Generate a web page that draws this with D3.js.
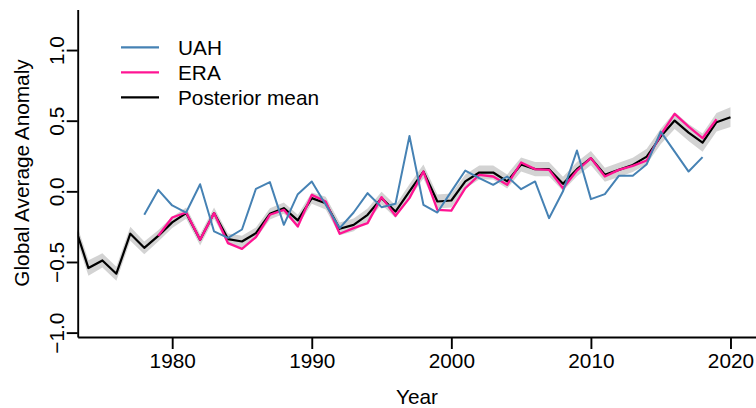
<!DOCTYPE html>
<html>
<head>
<meta charset="utf-8">
<script src="https://cdn.jsdelivr.net/npm/d3@7"></script>
<style>
  html, body { margin: 0; padding: 0; background: #fff; }
  svg { display: block; }
  text { font-family: "Liberation Sans", Arial, Helvetica, sans-serif; }
</style>
</head>
<body>
<svg id="chart" width="756" height="408"></svg>
<script>
// ---- data ----
const postYears = d3.range(1973, 2021);
const postMean = [-0.24, -0.543, -0.489, -0.583, -0.30, -0.40, -0.315, -0.22, -0.154, -0.343,
  -0.154, -0.338, -0.355, -0.296, -0.159, -0.119, -0.206, -0.048, -0.084, -0.265,
  -0.237, -0.166, -0.048, -0.143, 0.0, 0.14, -0.072, -0.065, 0.07, 0.133,
  0.133, 0.07, 0.19, 0.157, 0.157, 0.053, 0.157, 0.235, 0.117, 0.152,
  0.187, 0.246, 0.388, 0.501, 0.416, 0.345, 0.489, 0.525];
const postHalf = [0.055, 0.055, 0.05, 0.05, 0.05, 0.045, 0.04, 0.04, 0.04, 0.04,
  0.04, 0.04, 0.04, 0.04, 0.04, 0.04, 0.04, 0.04, 0.045, 0.045,
  0.045, 0.045, 0.045, 0.045, 0.05, 0.05, 0.05, 0.05, 0.05, 0.05,
  0.05, 0.05, 0.05, 0.05, 0.05, 0.05, 0.05, 0.05, 0.05, 0.05,
  0.05, 0.055, 0.055, 0.06, 0.06, 0.065, 0.065, 0.07];

const eraYears = d3.range(1979, 2020);
const eraVals = [-0.315, -0.185, -0.15, -0.343, -0.154, -0.367, -0.407, -0.324, -0.166, -0.131,
  -0.249, -0.025, -0.072, -0.30, -0.26, -0.225, -0.041, -0.173, -0.048, 0.14,
  -0.131, -0.136, 0.022, 0.117, 0.105, 0.046, 0.204, 0.157, 0.152, 0.022,
  0.147, 0.235, 0.105, 0.152, 0.18, 0.218, 0.40, 0.548, 0.458, 0.376, 0.51];

const uahYears = d3.range(1978, 2019);
const uahVals = [-0.166, 0.01, -0.10, -0.15, 0.05, -0.284, -0.33, -0.27, 0.018, 0.065,
  -0.237, -0.02, 0.07, -0.095, -0.26, -0.15, -0.013, -0.112, -0.088, 0.392,
  -0.095, -0.15, 0.0, 0.147, 0.093, 0.046, 0.105, 0.015, 0.07, -0.19,
  0.0, 0.289, -0.055, -0.02, 0.11, 0.11, 0.192, 0.423, 0.281, 0.14, 0.242];

const xTicks = [1980, 1990, 2000, 2010, 2020];
const yTicks = [-1.0, -0.5, 0.0, 0.5, 1.0];
const legendLabels = ["UAH", "ERA", "Posterior mean"];
const legendColors = ["#4682b4", "#ff1493", "#000000"];

// ---- layout ----
const pL = 77.7, pR = 757, pT = 9.5, pB = 337;
const x = d3.scaleLinear().domain([1973.23, 2021.9]).range([pL, pR]);
const y = d3.scaleLinear().domain([-1.031, 1.287]).range([pB, pT]);
const FONT = 20.8;

const svg = d3.select("#chart");

svg.append("defs").append("clipPath").attr("id", "plotclip")
  .append("rect").attr("x", pL).attr("y", pT)
  .attr("width", pR - pL).attr("height", pB - pT);

const plot = svg.append("g").attr("clip-path", "url(#plotclip)");

const post = postYears.map((yr, i) => ({yr, m: postMean[i], h: postHalf[i]}));
const era = eraYears.map((yr, i) => ({yr, v: eraVals[i]}));
const uah = uahYears.map((yr, i) => ({yr, v: uahVals[i]}));

plot.append("path")
  .datum(post)
  .attr("fill", "#d3d3d3")
  .attr("d", d3.area().x(d => x(d.yr)).y0(d => y(d.m - d.h)).y1(d => y(d.m + d.h)));

const line = d3.line().x(d => x(d.yr)).y(d => y(d.v));

plot.append("path").datum(post.map(d => ({yr: d.yr, v: d.m})))
  .attr("fill", "none").attr("stroke", "#000").attr("stroke-width", 2.2)
  .attr("stroke-linejoin", "round").attr("d", line);

plot.append("path").datum(era)
  .attr("fill", "none").attr("stroke", "#ff1493").attr("stroke-width", 2.3)
  .attr("stroke-linejoin", "round").attr("d", line);

plot.append("path").datum(uah)
  .attr("fill", "none").attr("stroke", "#4682b4").attr("stroke-width", 2)
  .attr("stroke-linejoin", "round").attr("d", line);

// ---- axes ----
const xAxis = svg.append("g").attr("transform", `translate(0,${pB})`)
  .call(d3.axisBottom(x).tickValues(xTicks).tickFormat(d3.format("d")).tickSize(12).tickSizeOuter(0));
const yAxis = svg.append("g").attr("transform", `translate(${pL},0)`)
  .call(d3.axisLeft(y).tickValues(yTicks).tickFormat(d => d3.format(".1f")(d).replace("-", "\u2212")).tickSize(11).tickSizeOuter(0));

[xAxis, yAxis].forEach(a => {
  a.select(".domain").attr("stroke", "#000").attr("stroke-width", 1.9);
  a.selectAll(".tick line").attr("stroke", "#000").attr("stroke-width", 1.9);
  a.selectAll("text").attr("font-size", FONT).attr("fill", "#000")
    .style("font-family", '"Liberation Sans", Arial, Helvetica, sans-serif');
});
xAxis.selectAll(".tick text").attr("y", 31).attr("dy", 0);
yAxis.selectAll(".tick text")
  .attr("x", 0).attr("dy", 0).attr("text-anchor", "middle")
  .attr("transform", "translate(-14,0) rotate(-90)");

// ---- axis titles ----
svg.append("text").attr("x", 417).attr("y", 404).attr("text-anchor", "middle")
  .attr("font-size", FONT).text("Year");
svg.append("text").attr("transform", "translate(29,173) rotate(-90)")
  .attr("text-anchor", "middle").attr("font-size", FONT).text("Global Average Anomaly");

// ---- legend ----
const lg = svg.append("g");
legendLabels.forEach((lab, i) => {
  const by = 55 + i * 25;
  lg.append("line").attr("x1", 121).attr("x2", 159).attr("y1", by - 7.7).attr("y2", by - 7.7)
    .attr("stroke", legendColors[i]).attr("stroke-width", 2.2);
  lg.append("text").attr("x", 178).attr("y", by).attr("font-size", FONT).text(lab);
});
</script>
</body>
</html>
